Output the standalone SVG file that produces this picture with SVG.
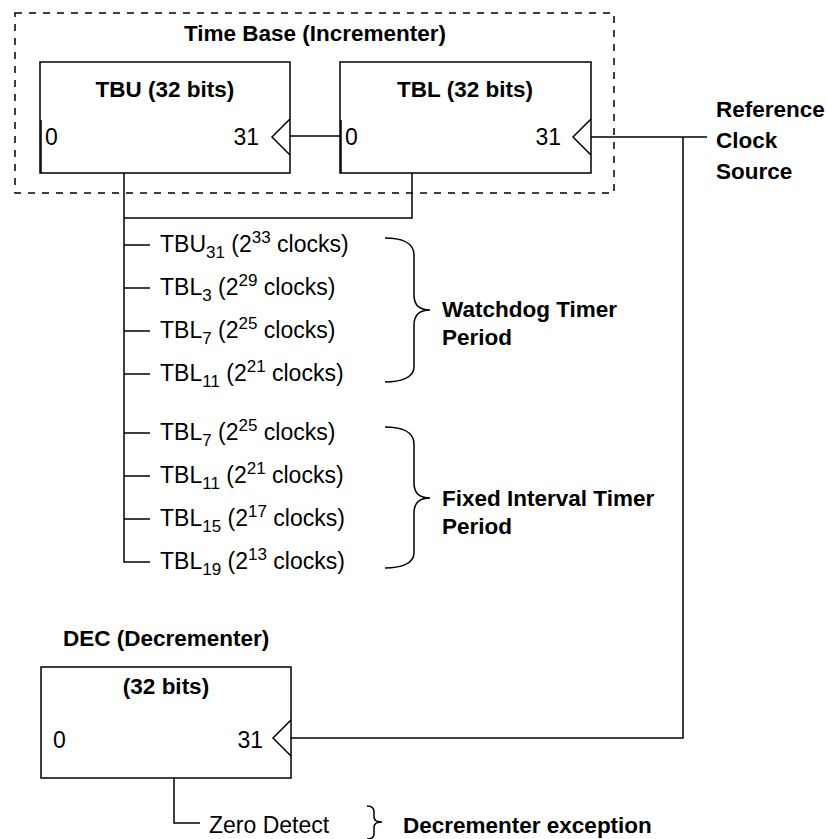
<svg xmlns="http://www.w3.org/2000/svg" width="827" height="839" viewBox="0 0 827 839">
<style>
.ln{fill:none;stroke:#000;stroke-width:1.5}
.bx{fill:#fff;stroke:#000;stroke-width:1.5}
.t{font-family:"Liberation Sans",Arial,sans-serif;font-size:23px;fill:#000}
.b{font-family:"Liberation Sans",Arial,sans-serif;font-size:22.5px;font-weight:bold;fill:#000}
.s{font-size:17px}
</style>
<rect width="827" height="839" fill="#fff"/>
<g id="timebase">
<rect x="15" y="13" width="599" height="180" fill="none" stroke="#000" stroke-width="1.5" stroke-dasharray="7,7"/>
<text class="b" x="315" y="41" text-anchor="middle">Time Base (Incrementer)</text>
</g>
<g id="tbu">
<rect class="bx" x="40" y="62" width="250" height="111"/>
<line class="ln" x1="41" y1="120" x2="41" y2="173"/>
<text class="b" x="165" y="97" text-anchor="middle">TBU (32 bits)</text>
<text class="t" x="45" y="145">0</text>
<text class="t" x="259" y="145" text-anchor="end">31</text>
<polyline class="ln" points="290,119 272,137 290,155"/>
</g>
<g id="tbl">
<rect class="bx" x="340" y="62" width="251" height="111"/>
<line class="ln" x1="341" y1="120" x2="341" y2="173"/>
<text class="b" x="465" y="97" text-anchor="middle">TBL (32 bits)</text>
<text class="t" x="345" y="145">0</text>
<text class="t" x="561" y="145" text-anchor="end">31</text>
<polyline class="ln" points="591,119 573,137 591,155"/>
</g>
<g id="refclock">
<text class="b" x="716" y="117">Reference</text>
<text class="b" x="716" y="148">Clock</text>
<text class="b" x="716" y="179">Source</text>
</g>
<g id="dec">
<text class="b" x="63" y="646">DEC (Decrementer)</text>
<rect class="bx" x="41" y="667" width="250" height="111"/>
<text class="b" x="166" y="694" text-anchor="middle">(32 bits)</text>
<text class="t" x="53" y="748">0</text>
<text class="t" x="263" y="748" text-anchor="end">31</text>
<polyline class="ln" points="291,720 273,738 291,756"/>
</g>
<g id="taps">
<text class="t" x="160" y="252">TBU<tspan class="s" dy="6">31</tspan><tspan dy="-6"> (2</tspan><tspan class="s" dy="-9">33</tspan><tspan dy="9"> clocks)</tspan></text>
<text class="t" x="160" y="295">TBL<tspan class="s" dy="6">3</tspan><tspan dy="-6"> (2</tspan><tspan class="s" dy="-9">29</tspan><tspan dy="9"> clocks)</tspan></text>
<text class="t" x="160" y="338">TBL<tspan class="s" dy="6">7</tspan><tspan dy="-6"> (2</tspan><tspan class="s" dy="-9">25</tspan><tspan dy="9"> clocks)</tspan></text>
<text class="t" x="160" y="381">TBL<tspan class="s" dy="6">11</tspan><tspan dy="-6"> (2</tspan><tspan class="s" dy="-9">21</tspan><tspan dy="9"> clocks)</tspan></text>
<text class="t" x="160" y="440">TBL<tspan class="s" dy="6">7</tspan><tspan dy="-6"> (2</tspan><tspan class="s" dy="-9">25</tspan><tspan dy="9"> clocks)</tspan></text>
<text class="t" x="160" y="483">TBL<tspan class="s" dy="6">11</tspan><tspan dy="-6"> (2</tspan><tspan class="s" dy="-9">21</tspan><tspan dy="9"> clocks)</tspan></text>
<text class="t" x="160" y="526">TBL<tspan class="s" dy="6">15</tspan><tspan dy="-6"> (2</tspan><tspan class="s" dy="-9">17</tspan><tspan dy="9"> clocks)</tspan></text>
<text class="t" x="160" y="569">TBL<tspan class="s" dy="6">19</tspan><tspan dy="-6"> (2</tspan><tspan class="s" dy="-9">13</tspan><tspan dy="9"> clocks)</tspan></text>
</g>
<g id="watchdog">
<path class="ln" d="M385,238 C400,238 414,242 414,255 L414,295 C414,305 420,310 430,310 C420,310 414,315 414,325 L414,367 C414,378 400,382 385,382"/>
<text class="b" x="442" y="317">Watchdog Timer</text>
<text class="b" x="442" y="345">Period</text>
</g>
<g id="fit">
<path class="ln" d="M385,427 C400,427 414,431 414,444 L414,483 C414,493 420,498 430,498 C420,498 414,503 414,513 L414,553 C414,564 400,568 385,568"/>
<text class="b" x="442" y="506">Fixed Interval Timer</text>
<text class="b" x="442" y="534">Period</text>
</g>
<g id="zerodetect">
<text class="t" x="209" y="833">Zero Detect</text>
<path class="ln" d="M367,806 C372,806 374,808 374,812 L374,817 C374,820 377,822 382,822 C377,822 374,824 374,827 L374,834 C374,837 372,839 367,839"/>
<text class="b" x="403" y="833">Decrementer exception</text>
</g>
<g id="connectors">
<line class="ln" x1="290" y1="136" x2="340" y2="136"/>
<polyline class="ln" points="591,137 707,137"/>
<polyline class="ln" points="683,137 683,738 291,738"/>
<polyline class="ln" points="124,173 124,562 150,562"/>
<polyline class="ln" points="412,173 412,218 124,218"/>
<line class="ln" x1="124" y1="245" x2="150" y2="245"/>
<line class="ln" x1="124" y1="288" x2="150" y2="288"/>
<line class="ln" x1="124" y1="331" x2="150" y2="331"/>
<line class="ln" x1="124" y1="374" x2="150" y2="374"/>
<line class="ln" x1="124" y1="433" x2="150" y2="433"/>
<line class="ln" x1="124" y1="476" x2="150" y2="476"/>
<line class="ln" x1="124" y1="519" x2="150" y2="519"/>
<polyline class="ln" points="174,778 174,823 200,823"/>
</g>
</svg>
